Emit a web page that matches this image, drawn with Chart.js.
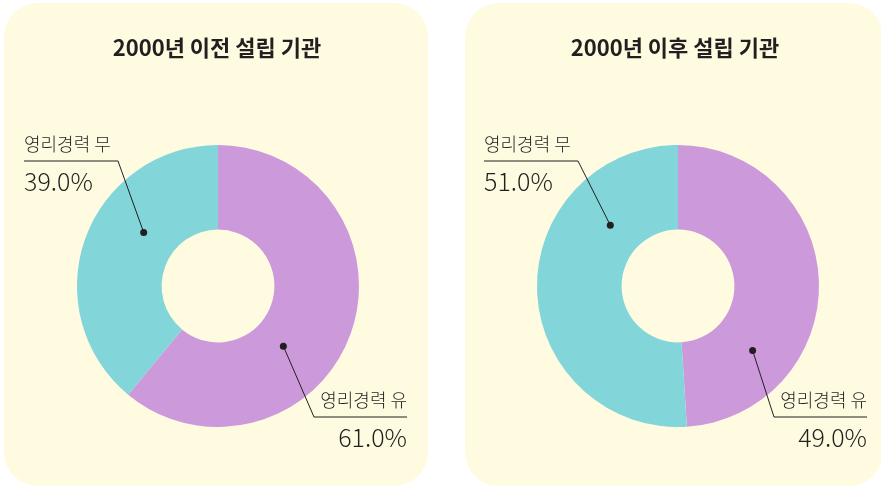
<!DOCTYPE html>
<html lang="ko">
<head>
<meta charset="utf-8">
<script src="https://cdn.jsdelivr.net/npm/chart.js@4"></script>
<style>
  html, body { margin: 0; padding: 0; background: #ffffff; }
  body { width: 881px; height: 488px; position: relative; overflow: hidden; }
  .panel { position: absolute; top: 3px; height: 483px; background: #fefbe1; border-radius: 34px; overflow: hidden; }
  #p1 { left: 4px; width: 424px; }
  #p2 { left: 465px; width: 418px; }
  canvas { display: block; }
</style>
</head>
<body>
<div class="panel" id="p1"><canvas id="chart1" width="424" height="483"></canvas></div>
<div class="panel" id="p2"><canvas id="chart2" width="418" height="483"></canvas></div>
<script>
const categories = ["영리경력 유", "영리경력 무"];
const titles = ["2000년 이전 설립 기관", "2000년 이후 설립 기관"];
const before2000 = [61.0, 39.0];
const after2000 = [49.0, 51.0];
const sliceColors = ["#cc99db", "#82d5d9"];

const ink = "#231f20";
const fontKo = '"Noto Sans CJK KR", "Noto Sans", sans-serif';

// where each leader line bends, relative to the doughnut centre
const sides = [
    { ex: 96, ey: 131, lx: 189, align: "right" },   // 유 : lower right
    { ex: -100, ey: -125, lx: -194, align: "left" } // 무 : upper left
];

// leader lines: dot + elbow + label
const leaderPlugin = {
    id: "leaders",
    afterDraw(chart, args, opts) {
        const ctx = chart.ctx;
        const meta = chart.getDatasetMeta(0);
        const values = chart.data.datasets[0].data;
        ctx.save();

        ctx.fillStyle = ink;
        ctx.font = "bold 22px " + fontKo;
        ctx.textAlign = "center";
        ctx.textBaseline = "middle";
        ctx.fillText(opts.title, chart.width / 2 + 1, 45);

        meta.data.forEach((arc, i) => {
            const p = arc.getProps(["x", "y", "startAngle", "endAngle", "outerRadius"], true);
            const d = opts.dots[i];
            const a = p.startAngle + d.t * (p.endAngle - p.startAngle);
            const r = p.outerRadius * d.r;
            const dx = p.x + Math.cos(a) * r;
            const dy = p.y + Math.sin(a) * r;
            const s = sides[i];
            const ex = p.x + s.ex, ey = p.y + s.ey, lx = p.x + s.lx;

            ctx.strokeStyle = ink;
            ctx.lineWidth = 1;
            ctx.beginPath();
            ctx.moveTo(dx, dy);
            ctx.lineTo(ex, ey);
            ctx.lineTo(lx, ey);
            ctx.stroke();

            ctx.beginPath();
            ctx.arc(dx, dy, 3.5, 0, Math.PI * 2);
            ctx.fill();

            ctx.textAlign = s.align;
            ctx.textBaseline = "alphabetic";
            ctx.font = "300 18px " + fontKo;
            ctx.fillText(chart.data.labels[i], lx, ey - 10);
            ctx.font = "300 25px " + fontKo;
            ctx.fillText(values[i].toFixed(1) + "%", lx, ey + 30);
        });
        ctx.restore();
    }
};

function makeChart(id, title, values, pad, dots) {
    return new Chart(document.getElementById(id).getContext("2d"), {
        type: "doughnut",
        data: {
            labels: categories,
            datasets: [{
                data: values,
                backgroundColor: sliceColors,
                borderWidth: 0,
                hoverOffset: 0
            }]
        },
        options: {
            responsive: false,
            animation: false,
            cutout: "40%",
            layout: { padding: pad },
            plugins: {
                legend: { display: false },
                tooltip: { enabled: false },
                leaders: { title: title, dots: dots }
            }
        },
        plugins: [leaderPlugin]
    });
}

makeChart("chart1", titles[0], before2000,
    { left: 73, right: 69, top: 142, bottom: 59 },
    [{ t: 0.604, r: 0.63 }, { t: 0.614, r: 0.65 }]);
makeChart("chart2", titles[1], after2000,
    { left: 72, right: 64, top: 142, bottom: 59 },
    [{ t: 0.742, r: 0.70 }, { t: 0.738, r: 0.645 }]);
</script>
</body>
</html>
